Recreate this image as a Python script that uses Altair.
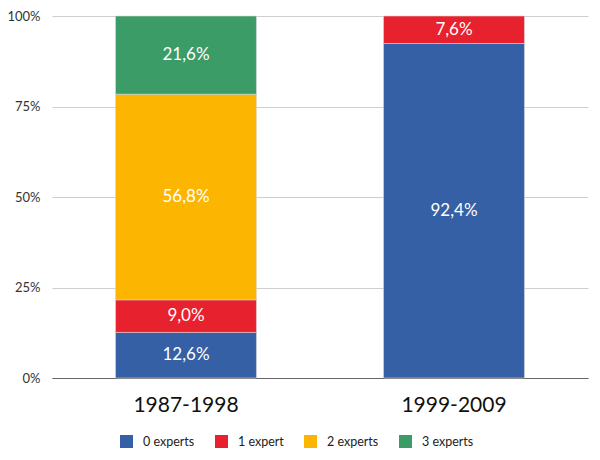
import altair as alt
import pandas as pd

periods = ["1987-1998", "1987-1998", "1987-1998", "1987-1998", "1999-2009", "1999-2009"]
groups = ["0 experts", "1 expert", "2 experts", "3 experts", "0 experts", "1 expert"]
order_idx = [0, 1, 2, 3, 0, 1]
values = [12.6, 9.0, 56.8, 21.6, 92.4, 7.6]

legend_labels = ["0 experts", "1 expert", "2 experts", "3 experts"]
colors = ["#3560A6", "#E8212E", "#FCB500", "#3B9C68"]

df = pd.DataFrame({"period": periods, "group": groups, "ord": order_idx, "value": values})
df["label"] = [f"{v:.1f}%".replace(".", ",") for v in values]

FONT = "Lato"

base = alt.Chart(df).transform_stack(
    stack="value", groupby=["period"], as_=["y0", "y1"], sort=[alt.SortField("ord", order="ascending")]
).transform_calculate(mid="(datum.y0 + datum.y1) / 2")

xenc = alt.X(
    "period:N",
    title=None,
    scale=alt.Scale(paddingInner=0.474, paddingOuter=0.237),
    axis=alt.Axis(labelAngle=0, labelFontSize=21, labelColor="#111111", labelFont=FONT,
                  ticks=False, domainColor="#666666", domainWidth=1.2, labelPadding=16),
)

bars = base.mark_bar(stroke="#d8d8d8", strokeWidth=0.6).encode(
    x=xenc,
    y=alt.Y(
        "y0:Q",
        title=None,
        scale=alt.Scale(domain=[0, 100], nice=False),
        axis=alt.Axis(values=[0, 25, 50, 75, 100], labelExpr="datum.value + '%'",
                      labelFontSize=13, labelColor="#333333", labelFont=FONT,
                      ticks=False, domain=False, grid=True, gridColor="#cfcfcf",
                      labelPadding=12),
    ),
    y2="y1:Q",
    color=alt.Color(
        "group:N",
        scale=alt.Scale(domain=legend_labels, range=colors),
        legend=alt.Legend(
            title=None, orient="none", direction="horizontal", legendX=68, legendY=419,
            symbolType="square", symbolSize=169, symbolStrokeWidth=0,
            labelFontSize=12.5, labelFont=FONT, labelColor="#222222",
            labelOffset=10, columnPadding=20, padding=0,
        ),
    ),
)

texts = base.mark_text(color="white", fontSize=17, font=FONT).encode(
    x=alt.X("period:N"),
    y=alt.Y("mid:Q"),
    text="label:N",
)

chart = (bars + texts).properties(
    width=536, height=362,
    autosize=alt.AutoSizeParams(type="none"),
    padding={"left": 44, "top": 8, "right": 4, "bottom": 80},
).configure_view(stroke=None).configure_axis(gridWidth=1)

chart.save("out.html", embed_options={"renderer": "svg", "actions": False})
